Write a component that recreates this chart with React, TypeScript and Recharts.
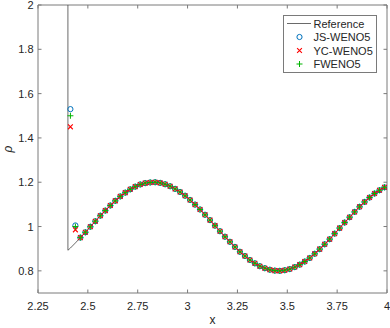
import React from 'react';
import { ComposedChart, Line, Scatter, XAxis, YAxis, ReferenceArea } from 'recharts';

// ---- data ----
const xValues = [
  2.4125, 2.4375, 2.4625, 2.4875, 2.5125, 2.5375, 2.5625, 2.5875, 2.6125, 2.6375,
  2.6625, 2.6875, 2.7125, 2.7375, 2.7625, 2.7875, 2.8125, 2.8375, 2.8625, 2.8875,
  2.9125, 2.9375, 2.9625, 2.9875, 3.0125, 3.0375, 3.0625, 3.0875, 3.1125, 3.1375,
  3.1625, 3.1875, 3.2125, 3.2375, 3.2625, 3.2875, 3.3125, 3.3375, 3.3625, 3.3875,
  3.4125, 3.4375, 3.4625, 3.4875, 3.5125, 3.5375, 3.5625, 3.5875, 3.6125, 3.6375,
  3.6625, 3.6875, 3.7125, 3.7375, 3.7625, 3.7875, 3.8125, 3.8375, 3.8625, 3.8875,
  3.9125, 3.9375, 3.9625, 3.9875,
];

// smooth part shared by all schemes (from the third cell on)
const smoothValues = [
  0.950, 0.974, 0.999, 1.024, 1.049, 1.072, 1.095, 1.116,
  1.136, 1.153, 1.168, 1.180, 1.190, 1.196, 1.199, 1.200, 1.197, 1.191,
  1.182, 1.170, 1.156, 1.139, 1.120, 1.099, 1.077, 1.053, 1.029, 1.004,
  0.979, 0.954, 0.931, 0.908, 0.886, 0.867, 0.849, 0.834, 0.821, 0.812,
  0.805, 0.801, 0.800, 0.803, 0.808, 0.817, 0.828, 0.842, 0.858, 0.877,
  0.898, 0.920, 0.943, 0.968, 0.993, 1.018, 1.042, 1.066, 1.089, 1.111,
  1.131, 1.149, 1.164, 1.177,
];

const jsWeno5Values = [1.53, 1.005, ...smoothValues];
const ycWeno5Values = [1.45, 0.985, ...smoothValues];
const fWeno5Values = [1.5, 1.0, ...smoothValues];

const referenceX = [2.4, 2.4, 2.4125, 2.4375, ...xValues.slice(2)];
const referenceY = [2.0, 0.893, 0.903, 0.926, ...smoothValues];

const xTicks = [2.25, 2.5, 2.75, 3, 3.25, 3.5, 3.75, 4];
const yTicks = [0.8, 1, 1.2, 1.4, 1.6, 1.8, 2];

const toPoints = (xs: number[], ys: number[]) => xs.map((x, i) => ({ x, y: ys[i] }));
const referenceData = toPoints(referenceX, referenceY);
const jsData = toPoints(xValues, jsWeno5Values);
const ycData = toPoints(xValues, ycWeno5Values);
const fData = toPoints(xValues, fWeno5Values);

// ---- layout ----
const W = 390;
const H = 328;
const LEFT = 38;
const RIGHT = 387;
const TOP = 5;
const BOTTOM = 293;
const TICK = 3.5;
const FONT = '"Liberation Sans", Arial, Helvetica, sans-serif';
const AXIS_COLOR = '#7a7a7a';
const TEXT_COLOR = '#262626';
const REF_COLOR = '#444';

const BLUE = '#0072BD';
const RED = '#FF0000';
const GREEN = '#00B400';

const XTick = (props: any) => {
  const { x, payload } = props;
  return (
    <g>
      <line x1={x} x2={x} y1={BOTTOM} y2={BOTTOM - TICK} stroke={AXIS_COLOR} strokeWidth={1} />
      <line x1={x} x2={x} y1={TOP} y2={TOP + TICK} stroke={AXIS_COLOR} strokeWidth={1} />
      <text x={x} y={310} textAnchor="middle" fontSize={11} fontFamily={FONT} fill={TEXT_COLOR}>
        {String(payload.value)}
      </text>
    </g>
  );
};

const YTick = (props: any) => {
  const { y, payload } = props;
  return (
    <g>
      <line x1={LEFT} x2={LEFT + TICK} y1={y} y2={y} stroke={AXIS_COLOR} strokeWidth={1} />
      <line x1={RIGHT} x2={RIGHT - TICK} y1={y} y2={y} stroke={AXIS_COLOR} strokeWidth={1} />
      <text x={33.5} y={y} dy={4} textAnchor="end" fontSize={11} fontFamily={FONT} fill={TEXT_COLOR}>
        {String(payload.value)}
      </text>
    </g>
  );
};

const CircleShape = (p: any) => (
  <circle cx={p.cx} cy={p.cy} r={2.6} fill="none" stroke={BLUE} strokeWidth={1} />
);
const CrossShape = (p: any) => {
  const s = 2.4;
  return (
    <path
      d={`M${p.cx - s},${p.cy - s}L${p.cx + s},${p.cy + s}M${p.cx - s},${p.cy + s}L${p.cx + s},${p.cy - s}`}
      fill="none"
      stroke={RED}
      strokeWidth={1.1}
    />
  );
};
const PlusShape = (p: any) => (
  <path
    d={`M${p.cx - 3},${p.cy}L${p.cx + 3},${p.cy}M${p.cx},${p.cy - 3}L${p.cx},${p.cy + 3}`}
    fill="none"
    stroke={GREEN}
    strokeWidth={1}
  />
);

const legendItems = [
  { name: 'Reference', kind: 'line' },
  { name: 'JS-WENO5', kind: 'circle' },
  { name: 'YC-WENO5', kind: 'cross' },
  { name: 'FWENO5', kind: 'plus' },
];

const LegendBox = () => {
  const lx = 283.5;
  const ly = 15.5;
  const lw = 93;
  const lh = 57;
  return (
    <svg width={W} height={H} style={{ position: 'absolute', left: 0, top: 0, pointerEvents: 'none' }}>
      <rect x={lx} y={ly} width={lw} height={lh} fill="#fff" stroke={AXIS_COLOR} strokeWidth={1} />
      {legendItems.map((it, i) => {
        const cy = 23.5 + i * 13.5;
        const mx = 299.5;
        let mark: React.ReactNode = null;
        if (it.kind === 'line') mark = <line x1={287} x2={311} y1={cy} y2={cy} stroke={REF_COLOR} strokeWidth={0.8} />;
        if (it.kind === 'circle') mark = <CircleShape cx={mx} cy={cy} />;
        if (it.kind === 'cross') mark = <CrossShape cx={mx} cy={cy} />;
        if (it.kind === 'plus') mark = <PlusShape cx={mx} cy={cy} />;
        return (
          <g key={it.name}>
            {mark}
            <text x={313.5} y={cy + 4} fontSize={11} fontFamily={FONT} fill={TEXT_COLOR}>
              {it.name}
            </text>
          </g>
        );
      })}
    </svg>
  );
};

export default function App() {
  return (
    <div style={{ position: 'absolute', left: 0, top: 0, width: W, height: H, background: '#fff' }}>
      <ComposedChart
        width={W}
        height={H}
        margin={{ top: TOP, right: W - RIGHT, bottom: 0, left: 0 }}
      >
        <XAxis
          type="number"
          dataKey="x"
          domain={[2.25, 4]}
          ticks={xTicks}
          allowDataOverflow
          axisLine={false}
          tickLine={false}
          tickSize={0}
          height={H - BOTTOM}
          tick={(p: any) => <XTick {...p} />}
          interval={0}
          label={{
            content: (lp: any) => {
              const vb = lp.viewBox || {};
              return (
                <text x={(vb.x ?? LEFT) + (vb.width ?? RIGHT - LEFT) / 2} y={324} textAnchor="middle" fontSize={12} fontFamily={FONT} fill={TEXT_COLOR}>
                  x
                </text>
              );
            },
          }}
        />
        <YAxis
          type="number"
          dataKey="y"
          domain={[0.7, 2]}
          ticks={yTicks}
          allowDataOverflow
          axisLine={false}
          tickLine={false}
          tickSize={0}
          width={LEFT}
          tick={(p: any) => <YTick {...p} />}
          interval={0}
          label={{
            content: () => (
              <text x={11.5} y={149} transform="rotate(-90 11.5 149)" textAnchor="middle" fontSize={12} fontStyle="italic" fontFamily={FONT} fill={TEXT_COLOR}>
                ρ
              </text>
            ),
          }}
        />
        <ReferenceArea x1={2.25} x2={4} y1={0.7} y2={2} fill="none" fillOpacity={0} stroke={AXIS_COLOR} strokeWidth={1} ifOverflow="visible" />
        <Line data={referenceData} dataKey="y" stroke={REF_COLOR} strokeWidth={0.8} dot={false} isAnimationActive={false} />
        <Scatter data={jsData} dataKey="y" shape={CircleShape} isAnimationActive={false} />
        <Scatter data={ycData} dataKey="y" shape={CrossShape} isAnimationActive={false} />
        <Scatter data={fData} dataKey="y" shape={PlusShape} isAnimationActive={false} />
      </ComposedChart>
      <LegendBox />
    </div>
  );
}
